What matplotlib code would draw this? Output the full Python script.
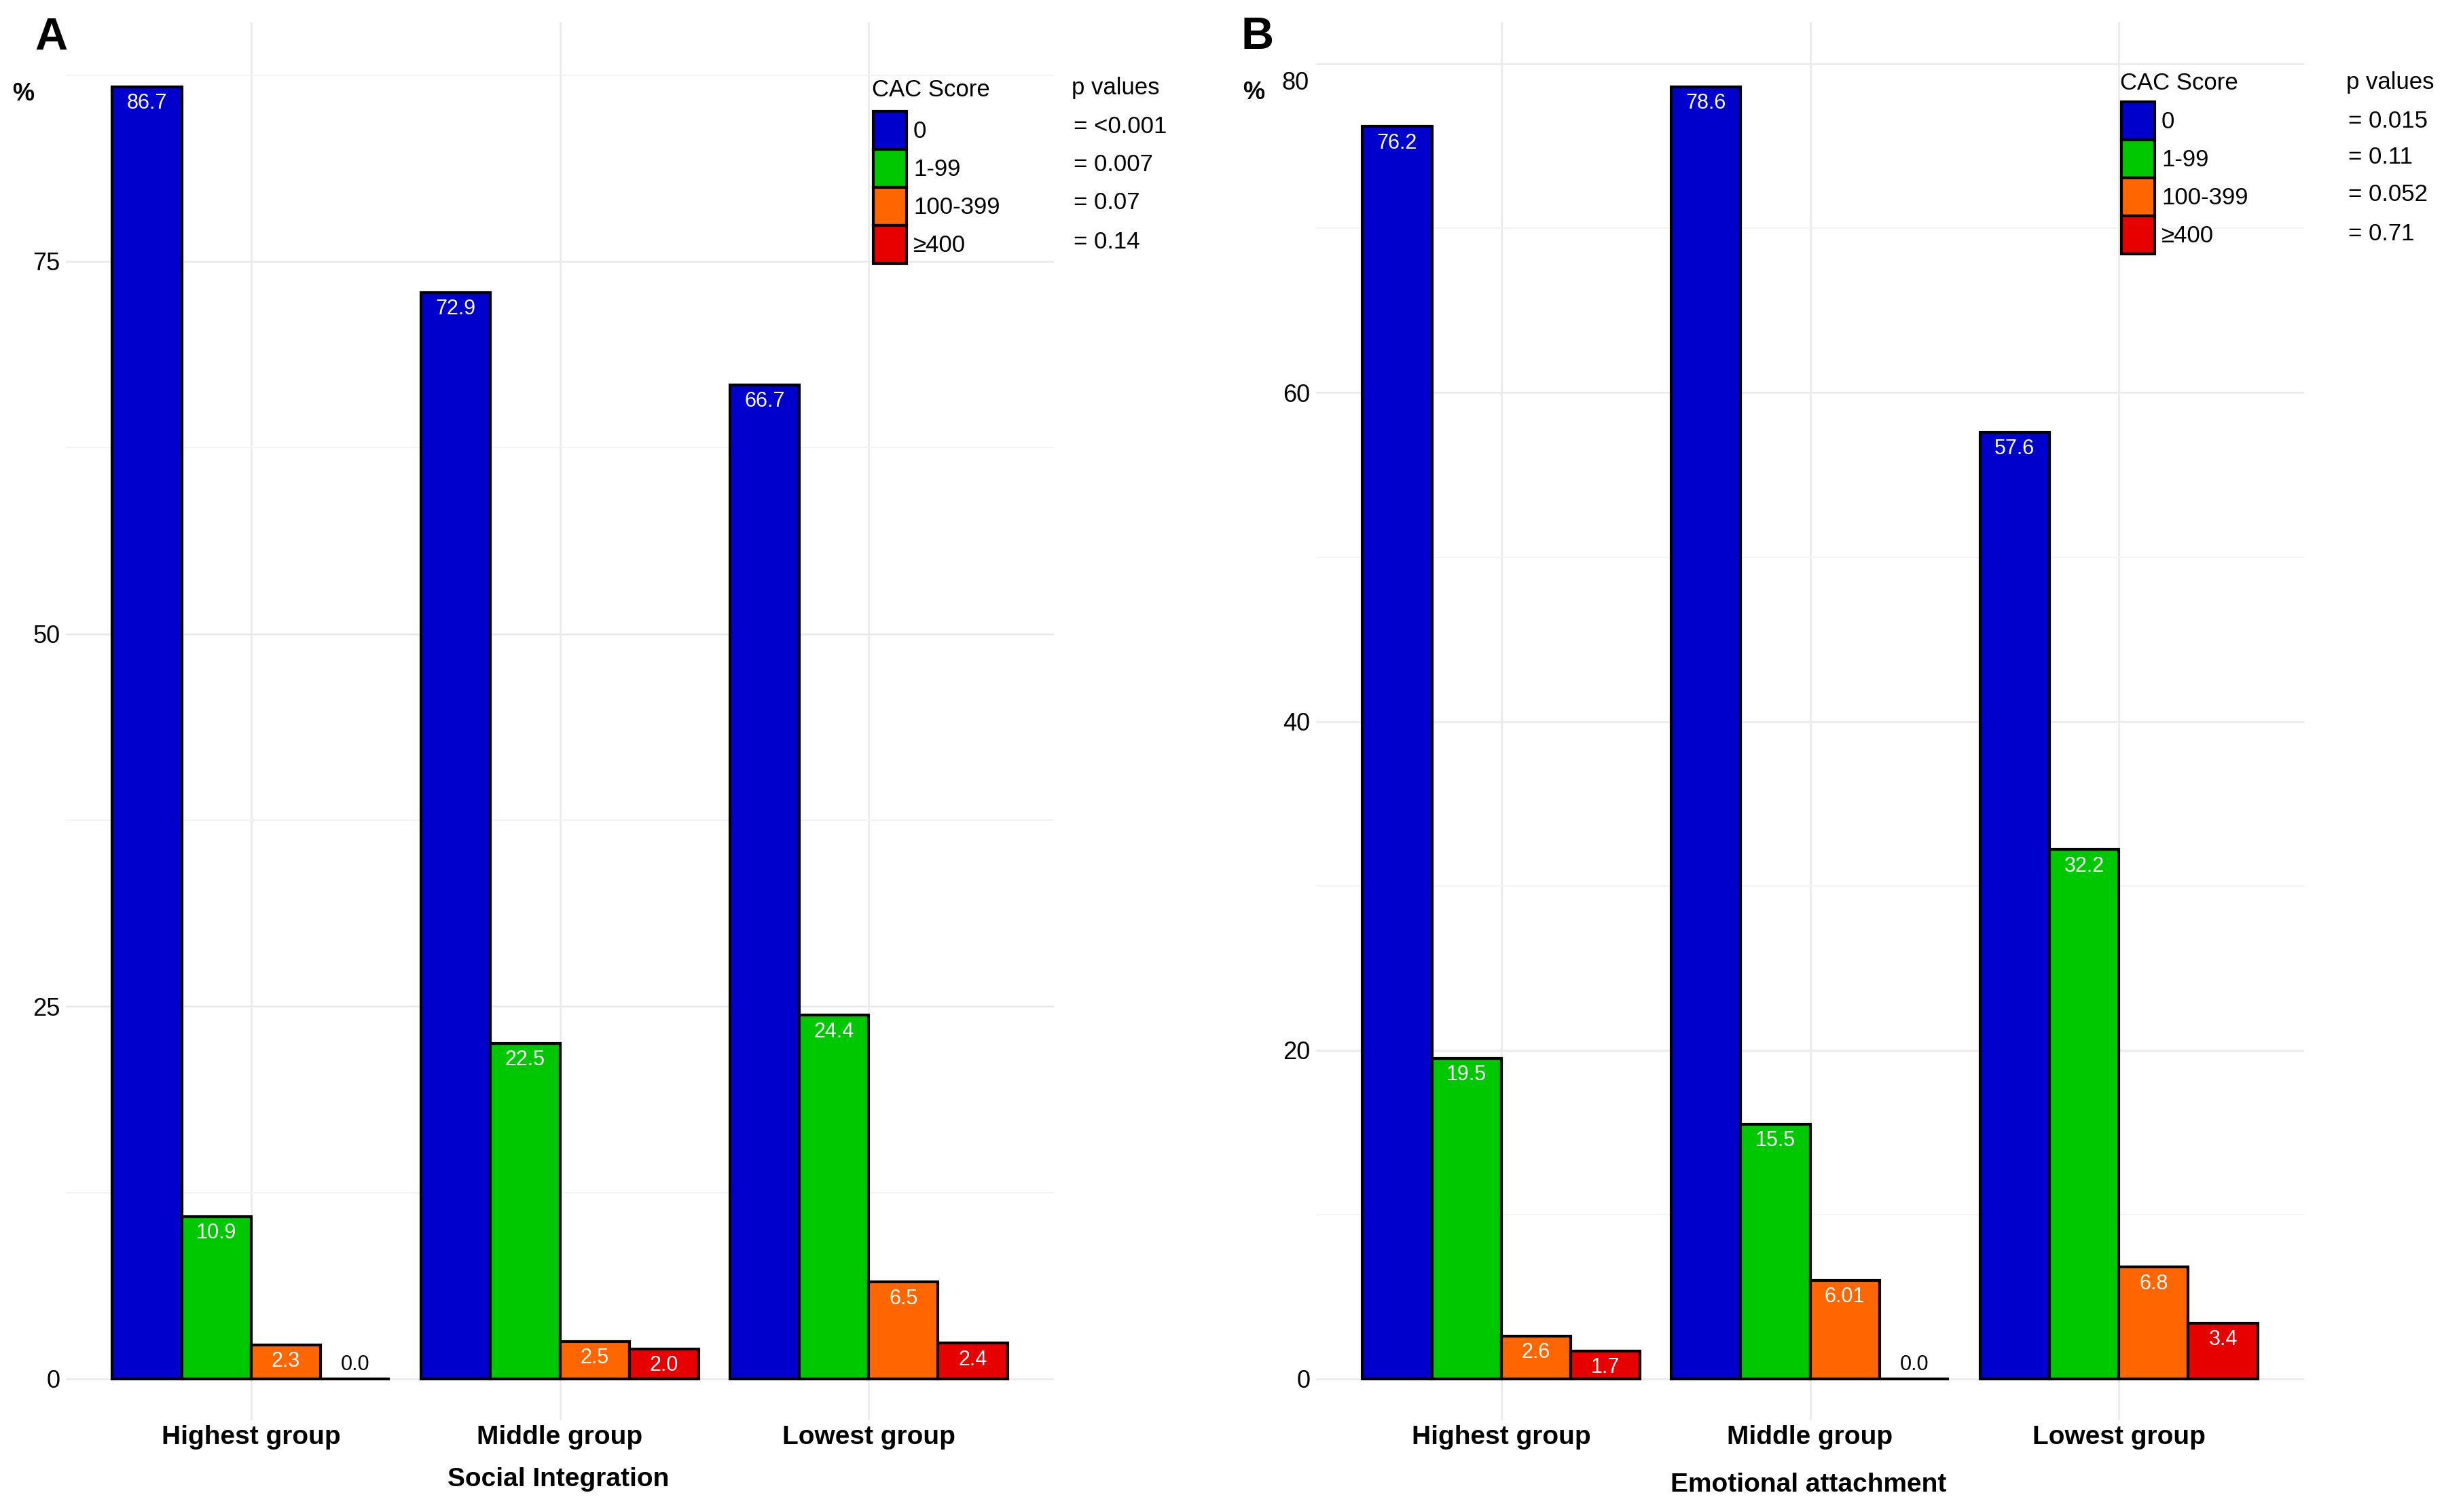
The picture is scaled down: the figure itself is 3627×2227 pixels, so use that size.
import matplotlib.pyplot as plt
import numpy as np

plt.rcParams['font.family'] = ['Liberation Sans', 'DejaVu Sans']

groups = ['Highest group', 'Middle group', 'Lowest group']
cac_levels = ['0', '1-99', '100-399', '≥400']
cac_colors = ['#0000CD', '#00C800', '#FF6600', '#E60000']

# panel A - social integration (% of each group per CAC score class)
social_cac0 = [86.7, 72.9, 66.7]
social_cac1_99 = [10.9, 22.5, 24.4]
social_cac100_399 = [2.3, 2.5, 6.5]
social_cac400 = [0.0, 2.0, 2.4]
social_p = ['= <0.001', '= 0.007', '= 0.07', '= 0.14']
social_yticks = [0, 25, 50, 75]

# panel B - emotional attachment
emotional_cac0 = [76.2, 78.6, 57.6]
emotional_cac1_99 = [19.5, 15.5, 32.2]
emotional_cac100_399 = [2.6, 6.01, 6.8]
emotional_cac400 = [1.7, 0.0, 3.4]
emotional_p = ['= 0.015', '= 0.11', '= 0.052', '= 0.71']
emotional_yticks = [0, 20, 40, 60, 80]

W, H = 3627, 2227
PANEL_TOP, PANEL_BOTTOM, BASELINE = 33, 2092, 2031
fig = plt.figure(figsize=(W / 100, H / 100), dpi=100)


def px_rect(left, top, right, bottom):
    return [left / W, 1 - bottom / H, (right - left) / W, (bottom - top) / H]


def fx(x):
    return x / W


def fy(y):
    return 1 - y / H


def draw_panel(ax, series, yticks, hide_last_tick=False):
    x = np.arange(len(groups)) + 1
    width = 0.9 / len(series)
    for i, (vals, lvl, col) in enumerate(zip(series, cac_levels, cac_colors)):
        pos = x + (i - (len(series) - 1) / 2) * width
        ax.bar(pos, vals, width, color=col, edgecolor='black', linewidth=3,
               label=lvl, zorder=3)
        for p, v in zip(pos, vals):
            txt = f'{v:.1f}' if round(v, 1) == v else f'{v:g}'
            if v == 0:
                ax.annotate(txt, (p, v), xytext=(0, 15), textcoords='offset points',
                            ha='center', va='center', fontsize=22, color='black', zorder=4)
            else:
                ax.annotate(txt, (p, v), xytext=(0, -17.5), textcoords='offset points',
                            ha='center', va='center', fontsize=22, color='white', zorder=4)

    top = max(max(s) for s in series) * 1.05
    below = (PANEL_BOTTOM - BASELINE) / (BASELINE - PANEL_TOP)
    ax.set_ylim(-below * top, top)
    ax.set_xlim(0.4, 3.6)
    step = yticks[1] - yticks[0]
    ax.set_yticks(yticks)
    ax.set_yticks([t + step / 2 for t in yticks if t + step / 2 < top], minor=True)
    labels = [str(t) for t in yticks]
    if hide_last_tick:
        labels[-1] = ''
    ax.set_yticklabels(labels)
    ax.set_xticks(x)
    ax.set_xticklabels(groups, fontweight='bold', fontsize=28)
    ax.grid(which='major', color='#EBEBEB', linewidth=2)
    ax.grid(which='minor', axis='y', color='#F3F3F3', linewidth=1.4)
    ax.set_axisbelow(True)
    ax.tick_params(which='both', length=0)
    ax.tick_params(axis='y', labelsize=26, pad=6)
    ax.tick_params(axis='x', pad=5)
    for s in ax.spines.values():
        s.set_visible(False)


def draw_legend(ax, key_left, key_top, title_y, pv_x, pv_title_y, pv_texts, pv_rows):
    ax.legend(loc='upper left', bbox_to_anchor=(fx(key_left + 2), fy(key_top + 2)),
              bbox_transform=fig.transFigure, frameon=False, fontsize=25,
              handlelength=1.4, handleheight=2.1, handletextpad=0.3,
              labelspacing=0, borderpad=0, borderaxespad=0)
    fig.text(fx(key_left), fy(title_y), 'CAC Score', fontsize=25, va='center')
    fig.text(fx(pv_x), fy(pv_title_y), 'p values', fontsize=25, va='center')
    for txt, y in zip(pv_texts, pv_rows):
        fig.text(fx(pv_x + 3), fy(y), txt, fontsize=25, va='center')


# panel A
axA = fig.add_axes(px_rect(97, PANEL_TOP, 1552, PANEL_BOTTOM))
draw_panel(axA, [social_cac0, social_cac1_99, social_cac100_399, social_cac400],
           social_yticks)
draw_legend(axA, 1284, 162, 133, 1578, 130, social_p, [187, 243, 298, 357])
fig.text(fx(75), fy(56), 'A', fontsize=48, fontweight='bold', ha='center', va='center')
fig.text(fx(34), fy(138), '%', fontsize=26, fontweight='bold', ha='center', va='center')
fig.text(fx(822), fy(2179), 'Social Integration', fontsize=28, fontweight='bold',
         ha='center', va='center')

# panel B
axB = fig.add_axes(px_rect(1938, PANEL_TOP, 3393, PANEL_BOTTOM))
draw_panel(axB, [emotional_cac0, emotional_cac1_99, emotional_cac100_399, emotional_cac400],
           emotional_yticks, hide_last_tick=True)
draw_legend(axB, 3122, 148, 122, 3455, 122, emotional_p, [178, 232, 287, 345])
fig.text(fx(1927), fy(123), '80', fontsize=26, ha='right', va='center')
fig.text(fx(1852), fy(55), 'B', fontsize=48, fontweight='bold', ha='center', va='center')
fig.text(fx(1846), fy(137), '%', fontsize=26, fontweight='bold', ha='center', va='center')
fig.text(fx(2663), fy(2187), 'Emotional attachment', fontsize=28, fontweight='bold',
         ha='center', va='center')

fig.savefig('out.png', dpi=100, facecolor='white')
